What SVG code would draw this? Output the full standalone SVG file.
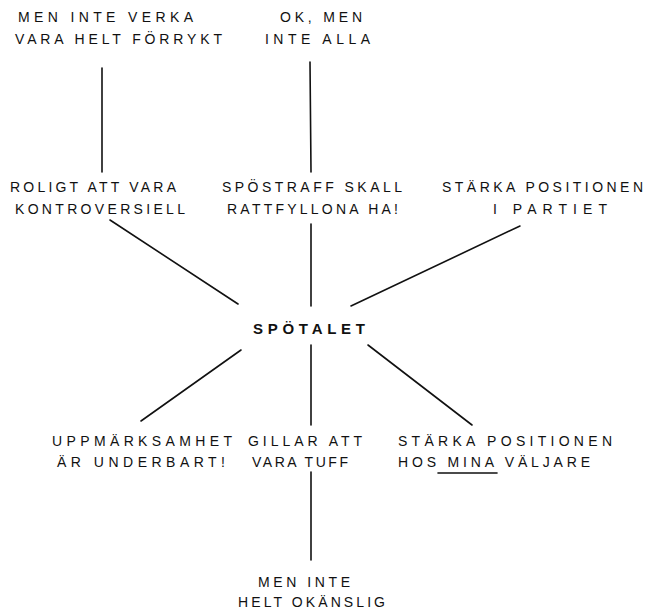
<svg xmlns="http://www.w3.org/2000/svg" width="653" height="611" viewBox="0 0 653 611">
<style>
text{font-family:"Liberation Sans","DejaVu Sans",sans-serif;font-size:14px;fill:#111}
.c{font-size:15px;font-weight:bold}
line{stroke:#111;stroke-width:1.6;stroke-linecap:round}
</style>
<rect width="653" height="611" fill="#fff"/>
<g id="connectors">
<line x1="102" y1="68" x2="102" y2="172"/>
<line x1="310" y1="62" x2="311" y2="172"/>
<line x1="110" y1="220" x2="238" y2="304"/>
<line x1="311" y1="224" x2="311" y2="306"/>
<line x1="520" y1="226" x2="351" y2="306"/>
<line x1="241" y1="350" x2="141" y2="421"/>
<line x1="311" y1="345" x2="311" y2="425"/>
<line x1="368" y1="345" x2="472" y2="425"/>
<line x1="311" y1="472" x2="311" y2="560"/>
</g>
<g id="n-forrykt">
<text x="18" y="22" textLength="175" lengthAdjust="spacing">MEN INTE VERKA</text>
<text x="15" y="44" textLength="207" lengthAdjust="spacing">VARA HELT FÖRRYKT</text>
</g>
<g id="n-okmen">
<text x="280" y="22" textLength="82" lengthAdjust="spacing">OK, MEN</text>
<text x="265" y="44" textLength="105" lengthAdjust="spacing">INTE ALLA</text>
</g>
<g id="n-roligt">
<text x="10" y="192" textLength="166" lengthAdjust="spacing">ROLIGT ATT VARA</text>
<text x="15" y="214" textLength="170" lengthAdjust="spacing">KONTROVERSIELL</text>
</g>
<g id="n-spostraff">
<text x="222" y="192" textLength="180" lengthAdjust="spacing">SPÖSTRAFF SKALL</text>
<text x="227" y="214" textLength="171" lengthAdjust="spacing">RATTFYLLONA HA!</text>
</g>
<g id="n-partiet">
<text x="442" y="192" textLength="201" lengthAdjust="spacing">STÄRKA POSITIONEN</text>
<text x="493" y="214" textLength="114" lengthAdjust="spacing">I PARTIET</text>
</g>
<g id="n-spotalet">
<text class="c" x="253" y="334" textLength="112" lengthAdjust="spacing">SPÖTALET</text>
</g>
<g id="n-uppmarksamhet">
<text x="52" y="446" textLength="180" lengthAdjust="spacing">UPPMÄRKSAMHET</text>
<text x="57" y="467" textLength="168" lengthAdjust="spacing">ÄR UNDERBART!</text>
</g>
<g id="n-tuff">
<text x="248" y="446" textLength="114" lengthAdjust="spacing">GILLAR ATT</text>
<text x="252" y="467" textLength="96" lengthAdjust="spacing">VARA TUFF</text>
</g>
<g id="n-valjare">
<text x="398" y="446" textLength="214" lengthAdjust="spacing">STÄRKA POSITIONEN</text>
<text x="398" y="467" textLength="192" lengthAdjust="spacing">HOS MINA VÄLJARE</text>
<line x1="438" y1="473" x2="497" y2="473"/>
</g>
<g id="n-okanslig">
<text x="258" y="587" textLength="92" lengthAdjust="spacing">MEN INTE</text>
<text x="238" y="607" textLength="147" lengthAdjust="spacing">HELT OKÄNSLIG</text>
</g>
</svg>
